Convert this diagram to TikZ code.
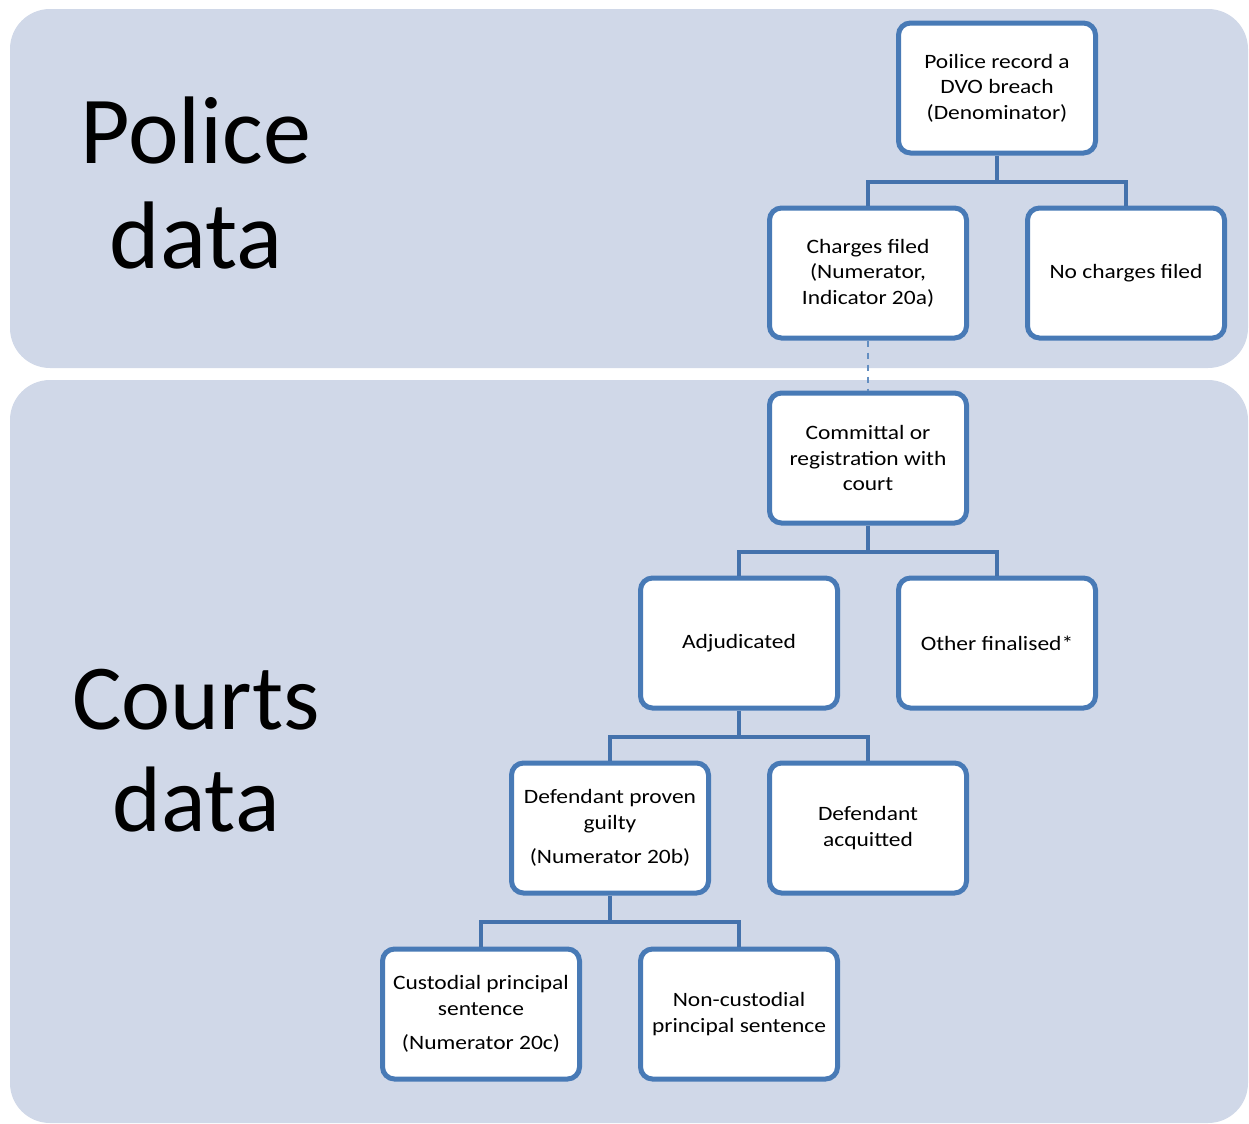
\documentclass[tikz,border=0pt]{standalone}
\usepackage{fontspec}
\setmainfont{Carlito}
\newfontfamily\boxfont[FakeStretch=1.15]{Carlito}
\usetikzlibrary{positioning}

\definecolor{panelblue}{RGB}{208,216,232}
\definecolor{boxblue}{RGB}{72,122,182}
\definecolor{linkblue}{RGB}{68,114,172}

\tikzstyle{panel} = [fill=panelblue, draw=none, rounded corners=20pt]
\tikzstyle{stepbox} = [draw=boxblue, fill=white, line width=2.5pt,
    rectangle, rounded corners=6pt, minimum width=98.5pt,
    minimum height=65pt, align=center, font=\boxfont\fontsize{10.2}{12.75}\selectfont]
\tikzstyle{link} = [draw=linkblue, line width=2pt]
\tikzstyle{biglabel} = [align=center]

\begin{document}
\begin{tikzpicture}[x=0.5pt, y=-0.5pt]
    \useasboundingbox (0,0) rectangle (1249,1124);
%------------ Hintergrund ---------------------
    \fill[panel] (10,9) rectangle (1248,368);
    \fill[panel] (10,380) rectangle (1248,1123);
    \node[biglabel, font=\fontsize{48}{52.5}\selectfont] (policelabel) at (196,183) {Police\\data};
    \node[biglabel, font=\fontsize{46.5}{51}\selectfont] (courtslabel) at (196,751) {Courts\\data};
%------------ Polizei ---------------------
    \node[stepbox] (police) at (997,88) {Poilice record a\\DVO breach\\(Denominator)};
    \node[stepbox] (charged) at (868,273) {Charges filed\\(Numerator,\\Indicator 20a)};
    \node[stepbox] (nocharge) at (1126,273) {No charges filed};
%------------ Gerichte ---------------------
    \node[stepbox] (committal) at (868,458) {Committal or\\registration with\\court};
    \node[stepbox] (adjud) at (739,643) {Adjudicated};
    \node[stepbox] (otherfin) at (997,643) {Other finalised*};
    \node[stepbox] (guilty) at (610,828) {Defendant proven\\guilty\\[4.5pt](Numerator 20b)};
    \node[stepbox] (acquit) at (868,828) {Defendant\\acquitted};
    \node[stepbox] (custodial) at (481,1014) {Custodial principal\\sentence\\[4.5pt](Numerator 20c)};
    \node[stepbox] (noncust) at (739,1014) {Non-custodial\\principal sentence};
%------------ Verbindungen ---------------------
    \draw[link] (police.south) -- ++(0,26) coordinate (j1);
    \draw[link] (charged.north) |- (j1) -| (nocharge.north);
    \draw[draw=boxblue!85, line width=1pt, dashed] (charged.south) -- (committal.north);
    \draw[link] (committal.south) -- ++(0,26) coordinate (j2);
    \draw[link] (adjud.north) |- (j2) -| (otherfin.north);
    \draw[link] (adjud.south) -- ++(0,26) coordinate (j3);
    \draw[link] (guilty.north) |- (j3) -| (acquit.north);
    \draw[link] (guilty.south) -- ++(0,26) coordinate (j4);
    \draw[link] (custodial.north) |- (j4) -| (noncust.north);
\end{tikzpicture}
\end{document}
